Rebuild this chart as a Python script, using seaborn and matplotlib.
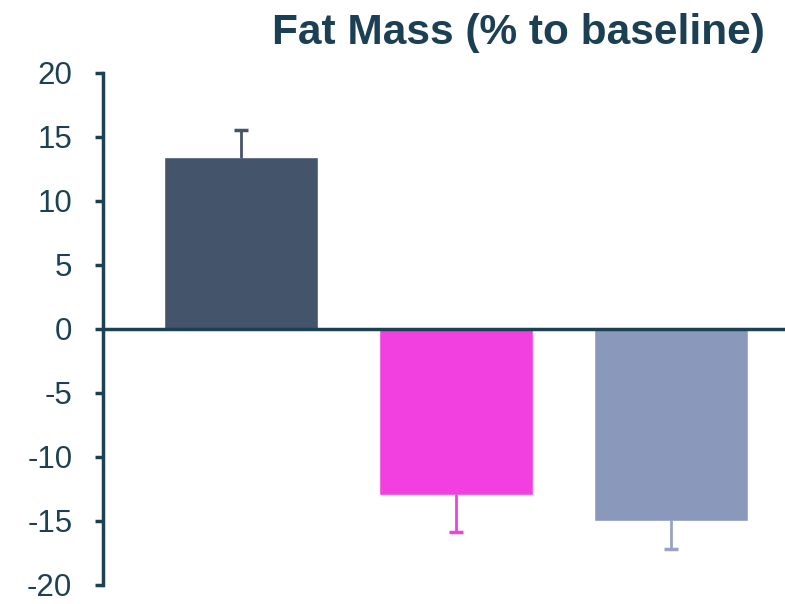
import matplotlib
matplotlib.use("Agg")
import numpy as np
import pandas as pd
import matplotlib.pyplot as plt
import seaborn as sns

# Data
groups = ["Group A", "Group B", "Group C"]
change = [13.4, -13.0, -15.0]
sem = [2.1, 2.9, 2.2]
bar_colors = ["#44546a", "#f240e0", "#8a98bb"]
err_colors = ["#44546a", "#f240e0", "#98a3c4"]
yticks = [20, 15, 10, 5, 0, -5, -10, -15, -20]

axis_color = "#1d4154"

sns.set_style("white")
plt.rcParams["font.family"] = ["Liberation Sans", "DejaVu Sans"]

df = pd.DataFrame({"group": groups, "change": change})

fig = plt.figure(figsize=(7.85, 6.04), dpi=100)
ax = fig.add_axes([0.131, 0.0315, 0.869, 0.848])

sns.barplot(data=df, x="group", y="change", hue="group", palette=bar_colors,
            width=0.716, legend=False, ax=ax, saturation=1)

# one-sided error bars, pointing away from zero, cap only at the far end
for i, (v, e) in enumerate(zip(change, sem)):
    tip = v + e if v >= 0 else v - e
    ax.plot([i, i], [v, tip], color=err_colors[i], lw=2, zorder=3)
    ax.plot(i, tip, marker="_", markersize=10, mew=2.5,
            color=err_colors[i], zorder=3)

ax.axhline(0, color=axis_color, lw=2.5, zorder=5)

ax.set_ylim(-20, 20)
ax.set_xlim(-0.642, 2.53)
ax.set_yticks(yticks)
ax.set_yticklabels([str(t) for t in yticks], fontsize=22.5, color=axis_color)
ax.tick_params(axis="y", direction="out", length=6, width=2.5,
               color=axis_color, pad=16, left=True)
ax.set_xticks([])
ax.set_xlabel("")
ax.set_ylabel("")

for s in ["top", "right", "bottom"]:
    ax.spines[s].set_visible(False)
ax.spines["left"].set_color(axis_color)
ax.spines["left"].set_linewidth(2.5)

fig.text(0.975, 0.945, "Fat Mass (% to baseline)", ha="right", va="center",
         fontsize=30.5, fontweight="bold", color="#1b4053")

fig.savefig("out.png", dpi=100)
